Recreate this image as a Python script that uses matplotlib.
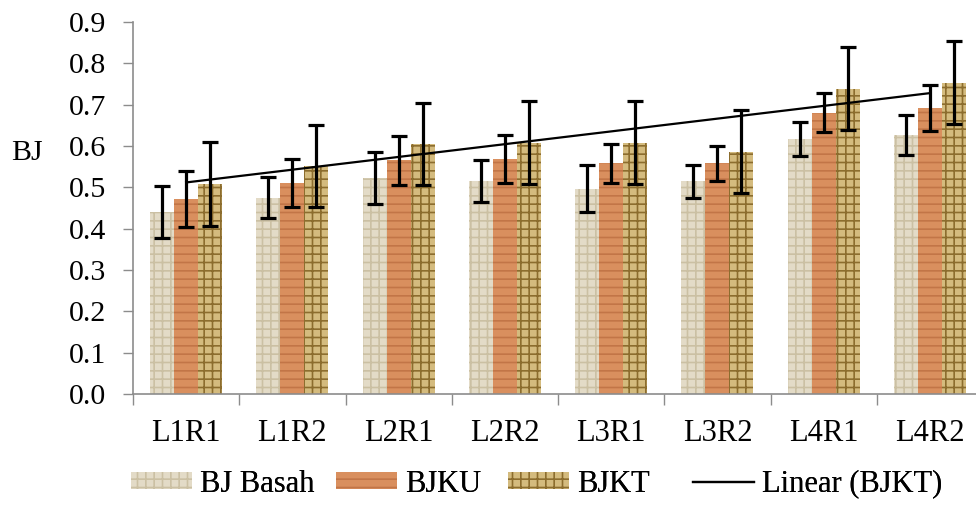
import numpy as np
import matplotlib
matplotlib.use("Agg")
import matplotlib.pyplot as plt
from matplotlib.patches import Patch
from matplotlib.lines import Line2D

categories = ["L1R1", "L1R2", "L2R1", "L2R2", "L3R1", "L3R2", "L4R1", "L4R2"]
bj_basah = [0.440, 0.475, 0.522, 0.515, 0.497, 0.515, 0.616, 0.627]
bj_basah_err = [0.063, 0.050, 0.063, 0.050, 0.057, 0.040, 0.041, 0.049]
bjku = [0.472, 0.511, 0.565, 0.569, 0.558, 0.558, 0.681, 0.692]
bjku_err = [0.067, 0.058, 0.059, 0.058, 0.047, 0.042, 0.048, 0.056]
bjkt = [0.508, 0.552, 0.605, 0.608, 0.608, 0.586, 0.739, 0.753]
bjkt_err = [0.102, 0.099, 0.100, 0.100, 0.100, 0.100, 0.100, 0.100]
yticks = [0.0, 0.1, 0.2, 0.3, 0.4, 0.5, 0.6, 0.7, 0.8, 0.9]
legend_labels = ["BJ Basah", "BJKU", "BJKT", "Linear (BJKT)"]

plt.rcParams['font.family'] = ['Liberation Serif', 'DejaVu Serif']
plt.rcParams['hatch.linewidth'] = 1.2

W, H = 976, 507
fig = plt.figure(figsize=(W / 100, H / 100), dpi=100)
ax = fig.add_axes([133 / W, (H - 394) / H, (983 - 133) / W, (394 - 22) / H])

x = np.arange(len(categories)) + 0.5
w = 0.226

styles = [
    dict(color='#e3dbc7', edgecolor='#cbc0a3', hatch='++'),
    dict(color='#d98f5e', edgecolor='#c27547', hatch='--'),
    dict(color='#d4bb7e', edgecolor='#8c6d2e', hatch='++'),
]
series = [(bj_basah, bj_basah_err), (bjku, bjku_err), (bjkt, bjkt_err)]
for k, ((vals, errs), st) in enumerate(zip(series, styles)):
    pos = x + (k - 1) * w
    ax.bar(pos, vals, width=w, facecolor=st['color'], edgecolor=st['edgecolor'],
           hatch=st['hatch'], linewidth=0, zorder=2)
    ax.errorbar(pos, vals, yerr=errs, fmt='none', ecolor='black', elinewidth=2.3,
                capsize=5.5, capthick=2.3, zorder=4)

idx = np.arange(1, len(categories) + 1)
coef = np.polyfit(idx, bjkt, 1)
ax.plot([x[0], x[-1]], np.polyval(coef, [idx[0], idx[-1]]), color='black',
        linewidth=1.6, zorder=3)

ax.set_xlim(0, len(categories))
ax.set_ylim(0, 0.9)
ax.set_yticks(yticks)
ax.set_yticklabels([f"{v:.1f}" for v in yticks], fontsize=21.5)
ax.tick_params(axis='y', length=7, width=1, color='#8c8c8c', pad=12)
ax.set_xticks(x)
ax.set_xticklabels(categories, fontsize=22)
ax.set_xticks(np.arange(0, len(categories) + 1), minor=True)
ax.tick_params(axis='x', which='major', length=0, pad=18)
ax.tick_params(axis='x', which='minor', length=8, width=1, color='#8c8c8c')
for s in ['top', 'right']:
    ax.spines[s].set_visible(False)
for s in ['left', 'bottom']:
    ax.spines[s].set_color('#8c8c8c')
    ax.spines[s].set_linewidth(1.2)

fig.text(27 / W, 1 - 153 / H, "BJ", fontsize=21.5, ha='center', va='center')

handles = [
    Patch(facecolor=styles[0]['color'], edgecolor=styles[0]['edgecolor'], hatch='++', linewidth=0),
    Patch(facecolor=styles[1]['color'], edgecolor=styles[1]['edgecolor'], hatch='--', linewidth=0),
    Patch(facecolor=styles[2]['color'], edgecolor=styles[2]['edgecolor'], hatch='++', linewidth=0),
    Line2D([0], [0], color='black', linewidth=1.6),
]
legend_x = [131, 336, 508, 693]
for hnd, lab, lx in zip(handles, legend_labels, legend_x):
    leg = fig.legend([hnd], [lab], loc='center left', bbox_to_anchor=(lx / W, 1 - 484 / H),
                     frameon=False, fontsize=22, handlelength=2.0, handleheight=0.5,
                     handletextpad=0.25, borderpad=0, borderaxespad=0)
    fig.add_artist(leg)

fig.savefig("out.png", dpi=100)
